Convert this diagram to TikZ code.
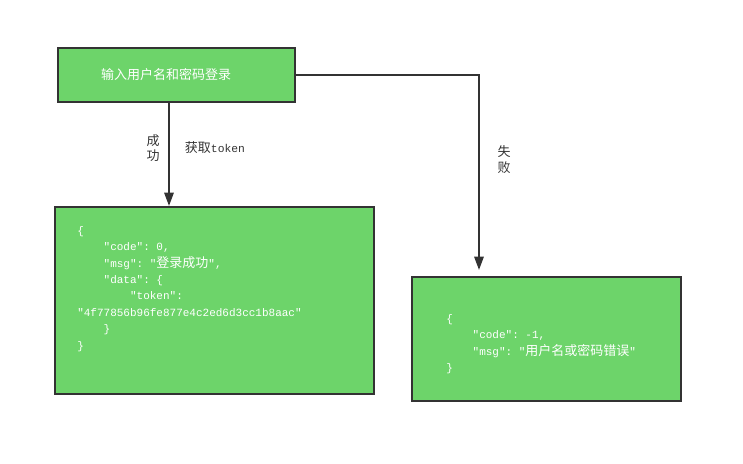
\documentclass[tikz,border=0pt]{standalone}
\usepackage{fontspec}
\setmonofont{Liberation Mono}
\newfontfamily\cjk{Noto Sans CJK SC}
\usetikzlibrary{arrows.meta,positioning,calc}
\definecolor{BoxGreen}{RGB}{109,212,106}
\definecolor{EdgeGray}{RGB}{51,51,51}
\tikzset{
  gbox/.style={draw=EdgeGray,fill=BoxGreen,line width=1.5pt,inner sep=0pt},
  jtxt/.style={text=white,align=left,inner sep=0pt,anchor=north west,
               font=\ttfamily\fontsize{8.25}{12.3}\selectfont},
  ltxt/.style={text=EdgeGray,align=center,inner sep=0pt,
               font=\cjk\fontsize{9.75}{11.5}\selectfont},
  arr/.style={-{Triangle[length=10pt,width=7pt]},EdgeGray,line width=1.5pt},
}
\newcommand\cn[1]{{\cjk\fontsize{9.75}{12.3}\selectfont #1}}
\newcommand\tab{\hphantom{xxxx}}

\begin{document}
\begin{tikzpicture}[x=0.75pt,y=-0.75pt]
        \useasboundingbox (0,0) rectangle (743,464);
        % boxes
        \node[gbox,minimum width=237*0.75pt,minimum height=54*0.75pt] (login) at (176.5,75) {};
        \node[gbox,minimum width=319*0.75pt,minimum height=187*0.75pt] (ok) at (214.5,300.5) {};
        \node[gbox,minimum width=269*0.75pt,minimum height=124*0.75pt] (fail) at (546.5,339) {};
        \node[text=white,inner sep=0pt,font=\cjk\fontsize{9.75}{12}\selectfont] (logintxt) at (166,75) {输入用户名和密码登录};
        % json bodies
        \node[jtxt] (okjson) at (77,226) {\{\\
          \tab"code": 0,\\
          \tab"msg": "\cn{登录成功}",\\
          \tab"data": \{\\
          \tab\tab"token":\\
          "4f77856b96fe877e4c2ed6d3cc1b8aac"\\
          \tab\}\\
          \}};
        \node[jtxt] (failjson) at (446,314) {\{\\
          \tab"code": -1,\\
          \tab"msg": "\cn{用户名或密码错误}"\\
          \}};
        % arrows
        \coordinate (okx) at (169,0);
        \coordinate (turn) at (479,75);
        \draw[arr] (login.south -| okx) -- (ok.north -| okx);
        \draw[arr,shorten >=4.5pt] (login.east) -- (turn) -- (turn |- fail.north);
        \node[ltxt] (oklbl) at (153,148) {成\\功};
        \node[ltxt] (toklbl) at (215,148) {获取{\ttfamily\fontsize{8.5}{11}\selectfont token}};
        \node[ltxt,font=\cjk\fontsize{9.75}{12}\selectfont] (faillbl) at (504,160) {失\\败};
      \end{tikzpicture}
\end{document}
